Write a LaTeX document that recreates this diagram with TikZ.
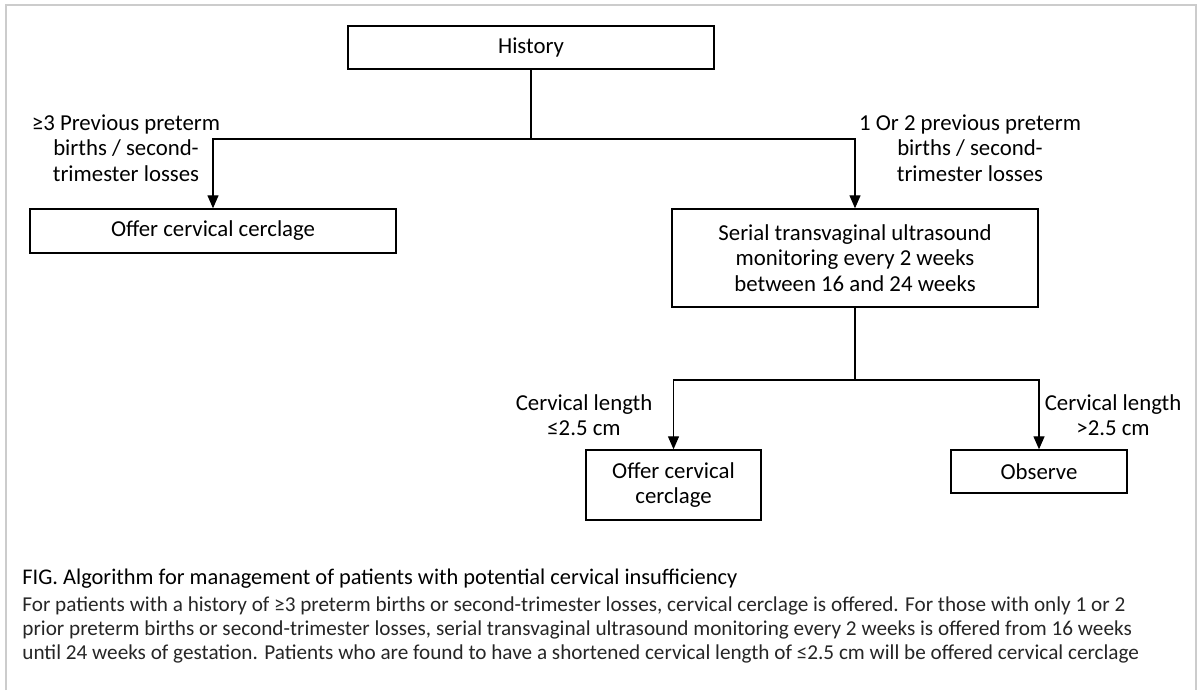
\documentclass[tikz,border=0pt]{standalone}
\usepackage{fontspec}
\setmainfont{Carlito}
\usetikzlibrary{arrows.meta,positioning}
\tikzset{
  box/.style={draw, line width=0.7pt, align=center, inner sep=0pt},
  lbl/.style={align=center, inner sep=0pt},
  ln/.style={line width=0.65pt},
  arr/.style={line width=0.65pt, -{Triangle[length=6.5pt,width=5.5pt]}},
}
\begin{document}
\begin{tikzpicture}[x=0.5pt,y=-0.5pt,font=\fontsize{11.4}{12.7}\selectfont]
	\useasboundingbox (0,0) rectangle (1202,690);
	% frame
	\draw[black!20, line width=1pt] (6,690) -- (6,5) -- (1196,5) -- (1196,690);
	% boxes
	\node[box, minimum width=183pt, minimum height=21.5pt] (history) at (531,47.5) {History};
	\node[box, minimum width=183pt, minimum height=22pt] (cerclage) at (213,231) {Offer cervical cerclage};
	\node[box, minimum width=183pt, minimum height=49pt] (serial) at (855,258) {Serial transvaginal ultrasound\\monitoring every 2 weeks\\between 16 and 24 weeks};
	\node[box, minimum width=87.5pt, minimum height=35pt] (offer) at (673.5,485) {Offer cervical\\cerclage};
	\node[box, minimum width=88pt, minimum height=21.5pt] (observe) at (1039,471.5) {Observe};
	% branch points
	\coordinate (split1) at (531,139);
	\coordinate (split2) at (855,380);
	\draw[ln] (history) -- (split1);
	\draw[arr] (split1) -| (cerclage);
	\draw[arr] (split1) -| (serial);
	\draw[ln] (serial) -- (split2);
	\draw[arr] (split2) -| (offer);
	\draw[arr] (split2) -| (observe);
	% labels
	\node[lbl] (many) at (126,148) {≥3 Previous preterm\\births / second-\\trimester losses};
	\node[lbl] (few) at (970,148) {1 Or 2 previous preterm\\births / second-\\trimester losses};
	\node[lbl] (short) at (584,415) {Cervical length\\≤2.5 cm};
	\node[lbl] (long) at (1113,415) {Cervical length\\>2.5 cm};
	% caption
	\node[anchor=base west, inner sep=0pt, font=\fontsize{11.2}{12.2}\selectfont] (title) at (22,584) {FIG. Algorithm for management of patients with potential cervical insufficiency};
	\node[anchor=north west, inner sep=0pt, align=left, text=black!85, font=\fontsize{10.6}{12.2}\selectfont] (legend) at (22,596)
		{For patients with a history of ≥3 preterm births or second-trimester losses, cervical cerclage is offered. For those with only 1 or 2\\
		prior preterm births or second-trimester losses, serial transvaginal ultrasound monitoring every 2 weeks is offered from 16 weeks\\
		until 24 weeks of gestation. Patients who are found to have a shortened cervical length of ≤2.5 cm will be offered cervical cerclage};
\end{tikzpicture}
\end{document}
